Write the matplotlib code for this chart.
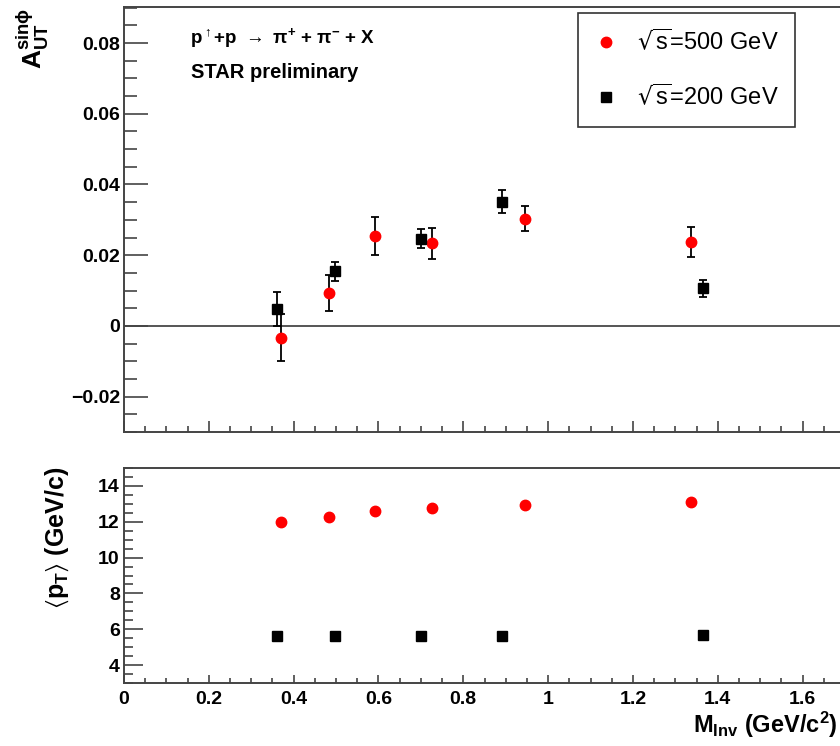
import matplotlib
matplotlib.use("Agg")
import matplotlib.pyplot as plt
from matplotlib.lines import Line2D
from matplotlib.ticker import MultipleLocator

plt.rcParams['font.family'] = ['Liberation Sans', 'DejaVu Sans']
plt.rcParams['mathtext.fontset'] = 'dejavusans'
plt.rcParams['mathtext.default'] = 'regular'

# sqrt(s) = 500 GeV
m500 = [0.370, 0.483, 0.592, 0.726, 0.946, 1.337]
a500 = [-0.0033, 0.0093, 0.0254, 0.0234, 0.0303, 0.0237]
e500 = [0.0066, 0.0052, 0.0054, 0.0044, 0.0035, 0.0042]
pt500 = [12.0, 12.28, 12.6, 12.78, 12.94, 13.1]

# sqrt(s) = 200 GeV
m200 = [0.361, 0.498, 0.700, 0.891, 1.366]
a200 = [0.0047, 0.0154, 0.0247, 0.0351, 0.0107]
e200 = [0.0048, 0.0028, 0.0027, 0.0033, 0.0024]
pt200 = [5.63, 5.65, 5.65, 5.65, 5.67]

spine_col = '#444444'

fig = plt.figure(figsize=(8.4, 7.46), dpi=100)
L, R = 124 / 840, 845 / 840
ax1 = fig.add_axes([L, 1 - 432 / 746, R - L, (432 - 7) / 746])
ax2 = fig.add_axes([L, 1 - 683 / 746, R - L, (683 - 468) / 746])

# top panel: asymmetry
ax1.axhline(0, color='#555555', lw=1.4, zorder=1)
ax1.errorbar(m500, a500, yerr=e500, fmt='o', color='red', ms=7.5, ecolor='black',
             elinewidth=1.3, capsize=3, capthick=1.3, zorder=3)
ax1.errorbar(m200, a200, yerr=e200, fmt='s', color='black', ms=6.5, ecolor='black',
             elinewidth=1.3, capsize=3, capthick=1.3, zorder=3)
ax1.set_xlim(0, 1.7)
ax1.set_ylim(-0.03, 0.0902)
ax1.xaxis.set_major_locator(MultipleLocator(0.2))
ax1.xaxis.set_minor_locator(MultipleLocator(0.05))
ax1.yaxis.set_major_locator(MultipleLocator(0.02))
ax1.yaxis.set_minor_locator(MultipleLocator(0.005))
ax1.set_xticklabels([])
ax1.set_yticks([-0.02, 0, 0.02, 0.04, 0.06, 0.08])
ax1.set_yticklabels(['\u22120.02', '0', '0.02', '0.04', '0.06', '0.08'])
ax1.tick_params(axis='y', which='major', direction='in', length=17, width=1.2,
                color=spine_col, labelsize=14, pad=3)
ax1.tick_params(axis='y', which='minor', direction='in', length=9, width=1.2, color=spine_col)
ax1.tick_params(axis='x', which='major', direction='in', length=8, width=1.2, color=spine_col)
ax1.tick_params(axis='x', which='minor', direction='in', length=4.3, width=1.2, color=spine_col)

ax1.text(190 / 840, 1 - 38 / 746, r'p$^{\uparrow}$+p $\rightarrow$ $\pi^{+}$ + $\pi^{-}$ + X',
         transform=fig.transFigure, fontsize=13.5, fontweight='bold', va='center')
ax1.text(191 / 840, 1 - 72 / 746, 'STAR preliminary', transform=fig.transFigure,
         fontsize=14.5, fontweight='bold', va='center')

handles = [Line2D([], [], ls='none', marker='o', color='red', ms=7.5),
           Line2D([], [], ls='none', marker='s', color='black', ms=6.5)]
leg = ax1.legend(handles, [r'$\sqrt{s}$=500 GeV', r'$\sqrt{s}$=200 GeV'],
                 loc='upper left', bbox_to_anchor=(578 / 840, 1 - 13 / 746),
                 bbox_transform=fig.transFigure, fontsize=17, frameon=True, fancybox=False,
                 borderpad=0.7, labelspacing=1.2, handlelength=1.0, handletextpad=0.8,
                 borderaxespad=0)
leg.get_frame().set_edgecolor('black')
leg.get_frame().set_linewidth(1.2)

fig.text(33 / 840, 1 - 8 / 746, r'A$_{UT}^{sin\phi}$', rotation=90, fontsize=19,
         fontweight='bold', ha='center', va='top')

# bottom panel: mean pT
ax2.plot(m500, pt500, 'o', color='red', ms=7.5)
ax2.plot(m200, pt200, 's', color='black', ms=6.5)
ax2.set_xlim(0, 1.7)
ax2.set_ylim(3, 15)
ax2.xaxis.set_major_locator(MultipleLocator(0.2))
ax2.xaxis.set_minor_locator(MultipleLocator(0.05))
ax2.yaxis.set_major_locator(MultipleLocator(2))
ax2.yaxis.set_minor_locator(MultipleLocator(0.5))
ax2.set_xticks([0, 0.2, 0.4, 0.6, 0.8, 1.0, 1.2, 1.4, 1.6])
ax2.set_xticklabels(['0', '0.2', '0.4', '0.6', '0.8', '1', '1.2', '1.4', '1.6'])
ax2.tick_params(axis='y', which='major', direction='in', length=13.7, width=1.2,
                color=spine_col, labelsize=14, pad=3)
ax2.tick_params(axis='y', which='minor', direction='in', length=6.5, width=1.2, color=spine_col)
ax2.tick_params(axis='x', which='major', direction='in', length=5.8, width=1.2,
                color=spine_col, labelsize=14, pad=6)
ax2.tick_params(axis='x', which='minor', direction='in', length=3.6, width=1.2, color=spine_col)

fig.text(57 / 840, 1 - 467 / 746, r'$\langle$p$_{T}\rangle$ (GeV/c)', rotation=90,
         fontsize=18, fontweight='bold', ha='center', va='top')
fig.text(838 / 840, 1 - 733 / 746, r'M$_{Inv}$ (GeV/c$^{2}$)', fontsize=17,
         fontweight='bold', ha='right', va='baseline')

for ax in (ax1, ax2):
    for sp in ax.spines.values():
        sp.set_color(spine_col)
        sp.set_linewidth(1.4)
    for lab in ax.get_xticklabels() + ax.get_yticklabels():
        lab.set_fontweight('bold')

fig.savefig('out.png', dpi=100)
